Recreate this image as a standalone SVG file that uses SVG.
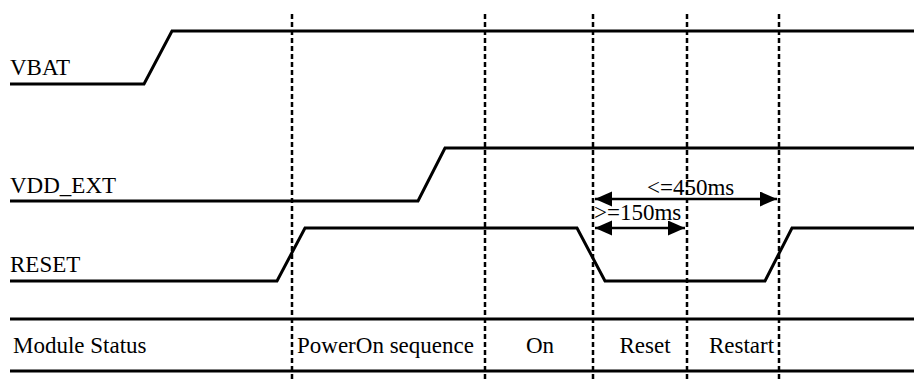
<svg xmlns="http://www.w3.org/2000/svg" width="914" height="381" viewBox="0 0 914 381">
  <style>
    .sig { fill: none; stroke: #000; stroke-width: 3; stroke-linejoin: miter; }
    .grid { fill: none; stroke: #000; stroke-width: 2.5; stroke-dasharray: 5 3; }
    .rule { fill: none; stroke: #000; stroke-width: 3; }
    .dim { fill: none; stroke: #000; stroke-width: 2.5; }
    text { font-family: "Liberation Serif", "Times New Roman", serif; font-size: 23px; fill: #000; }
    .mid { text-anchor: middle; }
  </style>
  <defs>
    <marker id="arrowHead" markerUnits="userSpaceOnUse" markerWidth="18" markerHeight="16" refX="17" refY="7.5" orient="auto-start-reverse">
      <path d="M0,0 L17,7.5 L0,15 Z" fill="#000"/>
    </marker>
  </defs>

  <!-- phase boundaries -->
  <g id="phase-markers">
    <line class="grid" x1="292" y1="14" x2="292" y2="381"/>
    <line class="grid" x1="485" y1="14" x2="485" y2="381"/>
    <line class="grid" x1="593" y1="14" x2="593" y2="381"/>
    <line class="grid" x1="687" y1="14" x2="687" y2="381"/>
    <line class="grid" x1="779" y1="14" x2="779" y2="381"/>
  </g>

  <!-- signal waveforms -->
  <g id="vbat">
    <text x="10" y="75">VBAT</text>
    <polyline class="sig" points="10,84 144,84 172,31 914,31"/>
  </g>
  <g id="vdd-ext">
    <text x="10" y="193">VDD_EXT</text>
    <polyline class="sig" points="10,201 418,201 445,148 914,148"/>
  </g>
  <g id="reset">
    <text x="10" y="272">RESET</text>
    <polyline class="sig" points="10,281 277,281 305,228 577,228 605,281 765,281 792,228 914,228"/>
  </g>

  <!-- timing constraints -->
  <g id="connectors">
    <line class="dim" x1="595" y1="199" x2="777" y2="199" marker-start="url(#arrowHead)" marker-end="url(#arrowHead)"/>
    <line class="dim" x1="595" y1="228" x2="685" y2="228" marker-start="url(#arrowHead)" marker-end="url(#arrowHead)"/>
  </g>
  <g id="label-max">
    <text x="647" y="195">&lt;=450ms</text>
  </g>
  <g id="label-min">
    <text x="594" y="220">&gt;=150ms</text>
  </g>

  <!-- module status row -->
  <g id="status-table">
    <line class="rule" x1="10" y1="319" x2="914" y2="319"/>
    <line class="rule" x1="10" y1="371" x2="914" y2="371"/>
    <text x="13" y="353">Module Status</text>
    <text x="297" y="353">PowerOn sequence</text>
    <text class="mid" x="540" y="353">On</text>
    <text class="mid" x="645" y="353">Reset</text>
    <text class="mid" x="741.5" y="353">Restart</text>
  </g>
</svg>
